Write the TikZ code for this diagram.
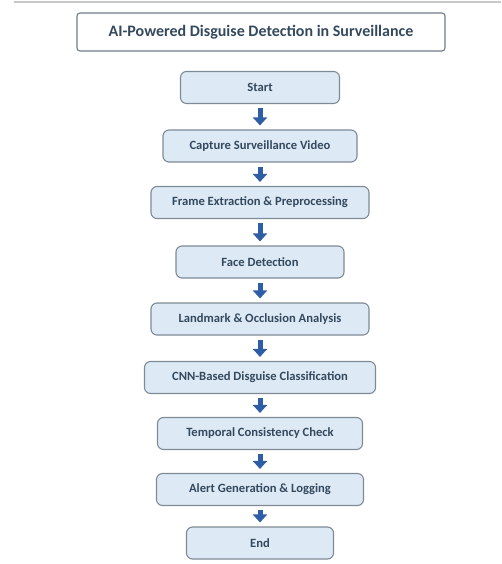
\documentclass[tikz,border=0pt]{standalone}
\usepackage{fontspec}
\setmainfont{Carlito}
\usetikzlibrary{arrows.meta}
\definecolor{boxfill}{HTML}{DDE9F5}
\definecolor{boxline}{HTML}{7E8A96}
\definecolor{txt}{HTML}{34495E}
\definecolor{arrowblue}{HTML}{2E5EA6}
\definecolor{topline}{HTML}{C8C8C8}
\tikzset{
  stepbox/.style={draw=boxline, fill=boxfill, line width=1.1pt, rounded corners=6pt,
    minimum height=32pt, inner sep=0pt, text=txt, font=\bfseries\fontsize{12.6}{15}\selectfont},
  titlebox/.style={draw=boxline!90!black, fill=white, line width=1.1pt, rounded corners=3pt,
    minimum width=368pt, minimum height=38pt, inner sep=0pt, text=txt,
    font=\bfseries\fontsize{16}{19}\selectfont},
  flowarrow/.style={draw=arrowblue, line width=5pt, shorten <=4pt, shorten >=4pt,
    -{Triangle[width=14pt,length=8pt]}}
}
\begin{document}
\begin{tikzpicture}[x=1pt,y=-1pt]
\useasboundingbox (0,0) rectangle (501,564);
\fill[white] (0,0) rectangle (501,564);
\draw[topline, line width=1.3pt] (14,2) -- (501,2);
\node[titlebox] (title) at (261,32) {AI-Powered Disguise Detection in Surveillance};
\node[stepbox, minimum width=159pt] (start) at (260,87.5) {Start};
\node[stepbox, minimum width=194pt] (capture) at (260,146) {Capture Surveillance Video};
\node[stepbox, minimum width=218pt] (frame) at (260,202.5) {Frame Extraction \& Preprocessing};
\node[stepbox, minimum width=168pt] (face) at (260,262) {Face Detection};
\node[stepbox, minimum width=218pt] (landmark) at (260,319) {Landmark \& Occlusion Analysis};
\node[stepbox, minimum width=231pt] (cnn) at (260,377.5) {CNN-Based Disguise Classification};
\node[stepbox, minimum width=205pt] (temporal) at (260,433.5) {Temporal Consistency Check};
\node[stepbox, minimum width=207pt] (alert) at (260,489.5) {Alert Generation \& Logging};
\node[stepbox, minimum width=147pt] (end) at (260,543) {End};
\foreach \a/\b in {start/capture, capture/frame, frame/face, face/landmark, landmark/cnn, cnn/temporal, temporal/alert, alert/end}
  \draw[flowarrow] (\a) -- (\b);
\end{tikzpicture}
\end{document}
